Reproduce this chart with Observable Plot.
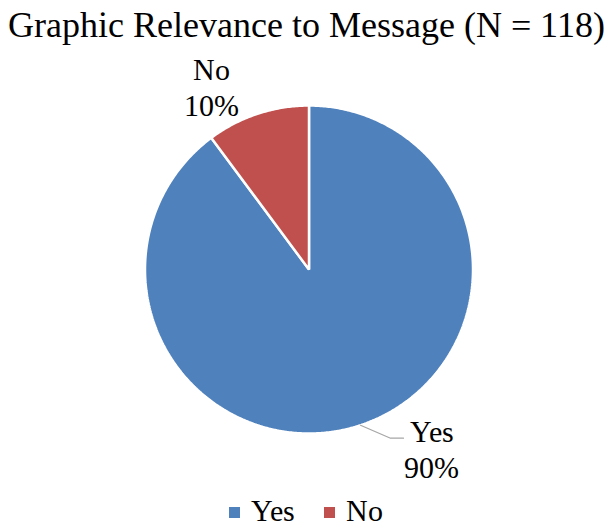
<!DOCTYPE html>
<html>
<head>
<meta charset="utf-8">
<script src="https://cdn.jsdelivr.net/npm/d3@7"></script>
<script src="https://cdn.jsdelivr.net/npm/@observablehq/plot@0.6"></script>
<style>
  @font-face { font-family: "ChartSerif"; src: local("Liberation Serif"), local("LiberationSerif"), local("LiberationSerif-Regular"), local("Liberation Serif Regular"); }
  body { margin: 0; padding: 0; background: #fff; width: 612px; height: 529px; overflow: hidden; font-family: ChartSerif, "Liberation Serif", serif; }
  #title { height: 50px; line-height: 50px; font-size: 36px; text-align: center; color: #000; white-space: nowrap; }
  #legend { height: 39px; display: flex; justify-content: center; align-items: center; font-size: 30px; color: #000; padding-top: 3px; box-sizing: border-box; }
  .item { display: flex; align-items: center; }
  .sw { width: 11px; height: 11px; display: inline-block; margin-right: 11px; margin-top: 3px; }
  .item + .item { margin-left: 29px; }
</style>
</head>
<body>
<div id="title"></div>
<div id="chart"></div>
<div id="legend"></div>
<script>
const titleText = "Graphic Relevance to Message (N = 118)";
const categories = ["Yes", "No"];
const counts = [106, 12];
const colors = ["#4F81BD", "#C0504D"];

document.getElementById("title").textContent = titleText;

const W = 612, H = 440;
const R = 164;
const cx = 308.5, cy = 219;

const total = d3.sum(counts);
const arcs = d3.pie().sort(null)(counts);

const pts = [];
arcs.forEach((a, i) => {
  const k = categories[i];
  pts.push({k, x: 0, y: 0});
  const n = Math.max(2, Math.ceil((a.endAngle - a.startAngle) / 0.01));
  for (let j = 0; j <= n; j++) {
    const t = a.startAngle + (a.endAngle - a.startAngle) * j / n;
    pts.push({k, x: Math.sin(t), y: Math.cos(t)});
  }
});

const labels = arcs.map((a, i) => {
  const mid = (a.startAngle + a.endAngle) / 2;
  return {k: categories[i], mid, text: `${categories[i]}\n${Math.round(counts[i] / total * 100)}%`};
});

const noL = labels.filter(d => d.k === "No").map(d => ({...d, x: 1.2 * Math.sin(d.mid), y: 1.2 * Math.cos(d.mid)}));
const yesL = labels.filter(d => d.k === "Yes").map(d => {
  const sx = Math.sin(d.mid), sy = Math.cos(d.mid);
  const ex = sx + 30 / R, ey = sy - 13 / R;
  return {...d, sx, sy, ex, ey, fx: ex + 13 / R, fy: ey};
});
const leader = yesL.flatMap(d => [{x: d.sx, y: d.sy}, {x: d.ex, y: d.ey}, {x: d.fx, y: d.fy}]);

const fam = "ChartSerif, 'Liberation Serif', serif";
const chart = Plot.plot({
  width: W,
  height: H,
  margin: 0,
  x: {domain: [-cx / R, (W - cx) / R], range: [0, W], axis: null},
  y: {domain: [-(H - cy) / R, cy / R], range: [H, 0], axis: null},
  color: {domain: categories, range: colors},
  style: {fontFamily: fam},
  marks: [
    Plot.line(pts, {x: "x", y: "y", z: "k", fill: "k", stroke: "white", strokeWidth: 2.5, strokeLinejoin: "miter", curve: "linear-closed"}),
    Plot.line(leader, {x: "x", y: "y", stroke: "#a6a6a6", strokeWidth: 1.2}),
    Plot.text(noL, {x: "x", y: "y", text: "text", fontSize: 30, fontFamily: fam, lineHeight: 1.2, textAnchor: "middle", lineAnchor: "middle", dx: -36, dy: 4, fill: "black"}),
    Plot.text(yesL, {x: "fx", y: "fy", text: "text", fontSize: 30, fontFamily: fam, lineHeight: 1.2, textAnchor: "middle", lineAnchor: "middle", dx: 28, dy: 10, fill: "black"})
  ]
});
document.getElementById("chart").appendChild(chart);

const legend = document.getElementById("legend");
categories.forEach((c, i) => {
  const item = document.createElement("span");
  item.className = "item";
  const sw = document.createElement("span");
  sw.className = "sw";
  sw.style.background = colors[i];
  const tx = document.createElement("span");
  tx.textContent = c;
  item.appendChild(sw);
  item.appendChild(tx);
  legend.appendChild(item);
});
</script>
</body>
</html>
